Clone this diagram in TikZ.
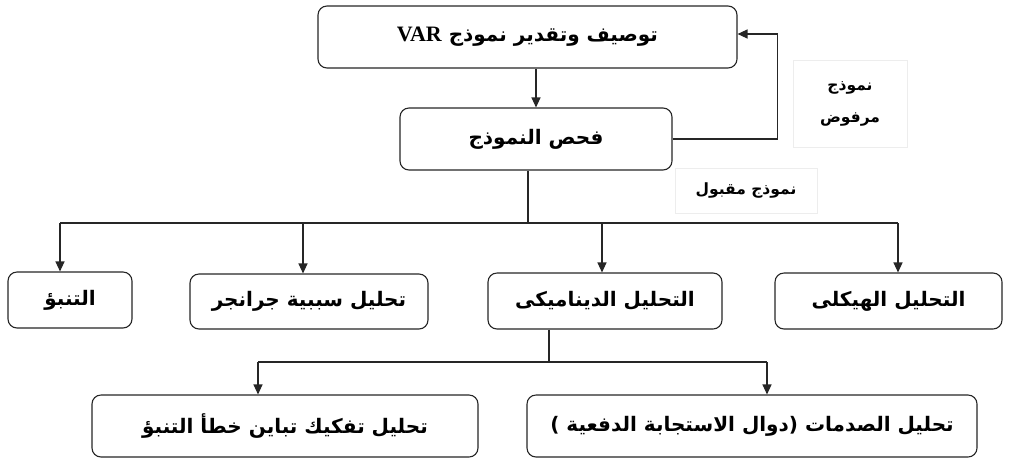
\documentclass[tikz,border=0pt]{standalone}
\usepackage{fontspec}
\usetikzlibrary{arrows.meta}
\TeXXeTstate=1
\newfontfamily\arabicfont[Script=Arabic]{DejaVu Sans}
\newfontfamily\latinfont{Liberation Serif}

\begin{document}
\begin{tikzpicture}[x=1pt,y=-1pt,
  stepbox/.style={draw=black!85, line width=1.1pt, rounded corners=9pt,
    fill=white, inner sep=0pt,
    font=\arabicfont\bfseries\fontsize{20}{24}\selectfont},
  tag/.style={draw=black!7, line width=0.8pt, fill=white, inner sep=0pt,
    align=center, font=\arabicfont\bfseries\fontsize{15.5}{32}\selectfont},
  link/.style={line width=1.2pt, draw=black!85},
  arr/.style={link, -{Triangle[length=10pt,width=9pt]}}]
\useasboundingbox (0,0) rectangle (1016,459);

% main chain
\node[stepbox, minimum width=419pt, minimum height=62pt] (spec) at (527.5,37)
  {\beginR توصيف وتقدير نموذج {\latinfont\bfseries\fontsize{22}{24}\selectfont\beginL VAR\endL}\endR};
\node[stepbox, minimum width=272pt, minimum height=62pt] (check) at (536,139)
  {\beginR فحص النموذج\endR};

% decision labels
\node[tag, minimum width=114pt, minimum height=87pt] (rej) at (850,103.5)
  {\beginR نموذج\endR\\\beginR مرفوض\endR};
\node[tag, minimum width=142pt, minimum height=45pt] (acc) at (746,190.5)
  {\beginR نموذج مقبول\endR};

% analysis row
\node[stepbox, minimum width=124pt, minimum height=56pt] (fore) at (70,300)
  {\beginR التنبؤ\endR};
\node[stepbox, minimum width=238pt, minimum height=55pt] (granger) at (309,301.5)
  {\beginR تحليل سببية جرانجر\endR};
\node[stepbox, minimum width=234pt, minimum height=56pt] (dyn) at (605,301)
  {\beginR التحليل الديناميكى\endR};
\node[stepbox, minimum width=227pt, minimum height=56pt] (struct) at (888.5,301)
  {\beginR التحليل الهيكلى\endR};

% dynamic analysis tools
\node[stepbox, minimum width=386pt, minimum height=62pt] (fevd) at (285,426)
  {\beginR تحليل تفكيك تباين خطأ التنبؤ\endR};
\node[stepbox, minimum width=450pt, minimum height=62pt] (irf) at (752,426)
  {\beginR تحليل الصدمات (دوال الاستجابة الدفعية ^^^^200f)\endR};

% connectors
\draw[arr] (spec.south -| check.north) -- (check.north);
\draw[arr] (check.east) -- ++(105,0) |- ([yshift=3pt]spec.east);

\coordinate (split) at (528,223);
\coordinate (busL) at (60,223);
\coordinate (busG) at (303,223);
\coordinate (busD) at (602,223);
\coordinate (busR) at (898,223);
\draw[link] (check.south -| split) -- (split);
\draw[link] (busL) -- (busR);
\draw[arr] (busL) -- (busL |- fore.north);
\draw[arr] (busG) -- (busG |- granger.north);
\draw[arr] (busD) -- (busD |- dyn.north);
\draw[arr] (busR) -- (busR |- struct.north);

\coordinate (split2) at (549,362);
\coordinate (subL) at (258,362);
\coordinate (subR) at (767,362);
\draw[link] (dyn.south -| split2) -- (split2);
\draw[link] (subL) -- (subR);
\draw[arr] (subL) -- (subL |- fevd.north);
\draw[arr] (subR) -- (subR |- irf.north);
\end{tikzpicture}
\end{document}
